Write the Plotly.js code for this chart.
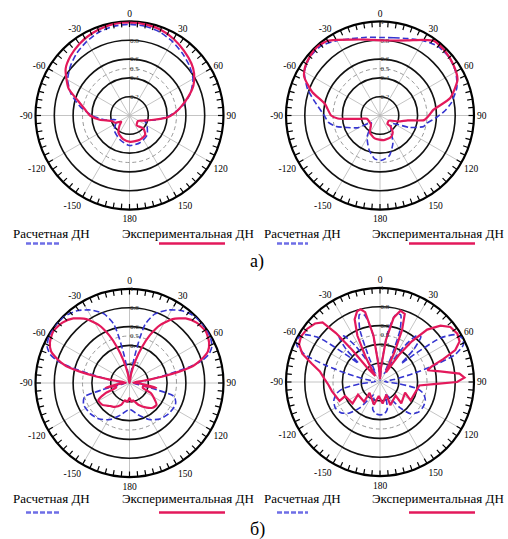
<!DOCTYPE html>
<html><head><meta charset="utf-8">
<script src="https://cdn.plot.ly/plotly-3.0.1.min.js"></script>
<style>html,body{margin:0;padding:0;background:#fff}#chart{width:508px;height:539px}</style>
</head><body><div id="chart"></div>
<script>
// ---- tick labels ----
const angleTicks = [0,30,60,90,120,150,180,210,240,270,300,330];
const angleLabels = ['0','30','60','90','120','150','180','-150','-120','-90','-60','-30'];
const radialTicks = [0.2,0.4,0.6,0.8,1];
const radialLabels = ['0.2','0.4','0.6','0.8','1'];
const dashedRingTicks = [0.5];
const dashedRingLabels = ['0.5'];
const legendCalc = 'Расчетная ДН';
const legendExp = 'Экспериментальная ДН';
const panelCaptions = ['а)','б)'];

// ---- panel 1 (top-left) ----
const theta1Calc = [0,10,20,30,40,50,60,70,80,90,100,108,114,120,138,159,180,202,226,243,252,260,270,280,290,300,310,320,330,340,350,360];
const r1Calc     = [0.97,0.965,0.945,0.91,0.87,0.83,0.78,0.69,0.57,0.43,0.28,0.17,0.19,0.215,0.28,0.31,0.32,0.276,0.226,0.16,0.15,0.27,0.40,0.53,0.66,0.76,0.82,0.87,0.91,0.945,0.965,0.97];
const theta1Exp  = [0,10,20,30,40,50,57,65,72,80,87,93,100,110,122,144,133,141,157,178,195,212,225,233,243,253,262,270,278,286,294,306,315,325,335,345,352,360];
const r1Exp      = [0.99,0.985,0.97,0.94,0.9,0.86,0.82,0.75,0.66,0.56,0.48,0.4,0.26,0.16,0.107,0.13,0.2,0.265,0.28,0.28,0.26,0.22,0.15,0.11,0.17,0.2,0.32,0.42,0.48,0.57,0.71,0.84,0.89,0.93,0.96,0.98,0.99,0.99];

// ---- panel 2 (top-right) ----
const theta2Calc = [0,10,20,30,40,50,60,70,80,86,92,100,104,112,125,144,155,167,178,187,198,211,230,241,250,256,262,271,282,290,300,310,320,330,340,350,360];
const r2Calc     = [0.83,0.84,0.87,0.92,0.96,0.96,0.93,0.87,0.77,0.69,0.6,0.5,0.48,0.34,0.15,0.2,0.325,0.44,0.477,0.464,0.38,0.266,0.12,0.267,0.374,0.48,0.55,0.6,0.71,0.82,0.93,0.97,0.97,0.92,0.87,0.845,0.83];
const theta2Exp  = [0,10,20,30,36,45,55,65,76,84,90,96,100,108,120,139,136,143,153,171,193,211,225,256,260,263,266,270,282,289,297,303,310,318,325,330,340,350,360];
const r2Exp      = [0.8,0.81,0.85,0.93,0.98,0.975,0.95,0.91,0.77,0.57,0.52,0.47,0.3,0.205,0.11,0.12,0.157,0.225,0.256,0.265,0.25,0.21,0.137,0.144,0.203,0.3,0.45,0.52,0.6,0.76,0.905,0.95,0.975,0.99,0.97,0.93,0.86,0.82,0.8];

// ---- panel 3 (bottom-left) ----
const theta3Calc = [0,8,11,13,15,20,28,36,44,52,60,66,70,73,75,77,80,85,92,100,104,107,115,128,140,152,165,180,195,208,220,232,245,253,256,260,268,275,280,283,285,287,290,294,300,308,316,324,332,340,345,347,349,352,360];
const r3Calc     = [0.0,0.1,0.3,0.5,0.65,0.78,0.88,0.95,0.99,1.0,0.99,0.96,0.9,0.8,0.65,0.45,0.25,0.1,0.04,0.1,0.3,0.5,0.54,0.53,0.5,0.44,0.35,0.28,0.35,0.44,0.5,0.53,0.54,0.5,0.3,0.1,0.04,0.1,0.25,0.45,0.65,0.8,0.9,0.96,0.99,1.0,0.99,0.95,0.88,0.78,0.65,0.5,0.3,0.1,0.0];
const theta3Exp  = [0,10,15,19,23,28,34,41,48,56,63,68,72,75,77,79,81,85,95,100,104,110,115,121,129,137,145,158,168,174,180,186,195,201,212,220,231,241,247,251,256,259,263,275,279,281,283,285,288,292,297,304,312,319,326,332,337,341,345,350,360];
const r3Exp      = [0.0,0.1,0.25,0.4,0.55,0.7,0.82,0.91,0.96,0.98,0.95,0.9,0.8,0.7,0.55,0.35,0.15,0.04,0.15,0.29,0.15,0.15,0.25,0.3,0.37,0.36,0.32,0.25,0.19,0.2,0.16,0.2,0.19,0.25,0.3,0.32,0.37,0.38,0.28,0.15,0.15,0.26,0.15,0.04,0.15,0.35,0.55,0.7,0.8,0.9,0.95,0.98,0.96,0.91,0.82,0.7,0.55,0.4,0.25,0.1,0.0];

// ---- panel 4 (bottom-right) ----
const theta4Calc = [0,5,9,13,17,21,24,27,30,34,38,42,46,49,51,54,58,62,66,70,73,76,80,85,95,100,105,112,120,128,136,142,148,155,165,172,180,188,195,205,212,218,225,232,240,248,255,260,265,275,280,284,287,290,294,298,302,306,309,311,314,318,322,326,330,333,336,339,343,347,351,355,360];
const r4Calc     = [0.02,0.2,0.55,0.73,0.75,0.6,0.3,0.1,0.2,0.45,0.62,0.65,0.5,0.3,0.45,0.8,0.95,0.99,0.97,0.85,0.6,0.35,0.15,0.05,0.2,0.4,0.48,0.52,0.53,0.52,0.47,0.35,0.2,0.15,0.3,0.34,0.35,0.34,0.3,0.15,0.2,0.35,0.47,0.53,0.55,0.53,0.48,0.4,0.2,0.05,0.15,0.35,0.6,0.85,0.97,0.99,0.95,0.8,0.45,0.3,0.5,0.65,0.62,0.45,0.2,0.1,0.3,0.6,0.75,0.73,0.55,0.2,0.02];
const theta4Exp  = [0,4,8,12,16,20,23,26,29,32,35,38,42,47,52,58,63,67,70,73,76,80,84,87,90,92,95,121,113,135,131,156,153,173,185,195,224,219,240,232,248,245,259,267,273,280,285,290,295,300,306,312,316,318,319,318,322,326,330,334,338,342,345,348,352,356,360];
const r4Exp      = [0.03,0.15,0.45,0.7,0.79,0.77,0.6,0.35,0.15,0.12,0.35,0.55,0.75,0.88,0.95,0.97,0.95,0.87,0.72,0.58,0.52,0.65,0.85,0.9,0.82,0.6,0.42,0.38,0.29,0.32,0.22,0.27,0.15,0.23,0.15,0.25,0.16,0.27,0.27,0.37,0.4,0.475,0.52,0.55,0.59,0.65,0.75,0.88,0.95,0.97,0.96,0.93,0.88,0.7,0.45,0.2,0.08,0.15,0.3,0.55,0.72,0.79,0.8,0.76,0.5,0.15,0.03];

const calcColor = '#3535d0';
const expColor = '#e3195b';
const serif = 'Liberation Serif, Times New Roman, serif';

const panels = [
  {tc: theta1Calc, rc: r1Calc, te: theta1Exp, re: r1Exp, cx: 129.5, cy: 115.5},
  {tc: theta2Calc, rc: r2Calc, te: theta2Exp, re: r2Exp, cx: 380, cy: 115.5},
  {tc: theta3Calc, rc: r3Calc, te: theta3Exp, re: r3Exp, cx: 129.5, cy: 383},
  {tc: theta4Calc, rc: r4Calc, te: theta4Exp, re: r4Exp, cx: 380, cy: 382}
];

const W = 508, H = 539, R = 94;
const minorTicks = [];
for (let a = 0; a < 360; a += 5) minorTicks.push(a);

const data = [];
const layout = {
  width: W, height: H, margin: {l:0, r:0, t:0, b:0},
  paper_bgcolor: '#fff', showlegend: false,
  font: {family: serif, color: '#000'},
  annotations: [], shapes: []
};

panels.forEach((p, i) => {
  const main = 'polar' + (i === 0 ? '' : (i*2+1));
  const over = 'polar' + (i*2+2);
  const dom = {
    x: [(p.cx - R)/W, (p.cx + R)/W],
    y: [1 - (p.cy + R)/H, 1 - (p.cy - R)/H]
  };
  layout[main] = {
    domain: dom, bgcolor: '#fff',
    radialaxis: {range: [0,1], tickvals: radialTicks, ticktext: radialLabels, angle: 90, tickangle: 90,
      showline: false, ticks: '', gridcolor: '#111', gridwidth: 1.6,
      tickfont: {size: 7, color: '#333', family: serif}},
    angularaxis: {rotation: 90, direction: 'clockwise', tickvals: angleTicks, ticktext: angleLabels,
      ticks: '', showline: true, linecolor: '#000', linewidth: 2.2,
      gridcolor: '#b5b5b5', gridwidth: 0.8, tickfont: {size: 9.5, color: '#000', family: serif}}
  };
  layout[over] = {
    domain: dom, bgcolor: 'rgba(0,0,0,0)',
    radialaxis: {range: [0,1], tickvals: dashedRingTicks, ticktext: dashedRingLabels, angle: 90, tickangle: 90,
      showline: false, ticks: '', gridcolor: '#999', gridwidth: 1, griddash: '4px,3px',
      tickfont: {size: 7, color: '#333', family: serif}},
    angularaxis: {rotation: 90, direction: 'clockwise', tickvals: minorTicks, ticks: 'inside',
      ticklen: 5, tickwidth: 1.2, tickcolor: '#000', showgrid: false, showline: false,
      showticklabels: false}
  };
  // empty trace so the grid subplot is created
  data.push({type: 'scatterpolar', subplot: main, theta: [], r: [], mode: 'lines', hoverinfo: 'skip'});
  data.push({type: 'scatterpolar', subplot: over, theta: p.tc, r: p.rc, mode: 'lines',
    line: {color: calcColor, width: 1.6, dash: '6px,3px', shape: 'spline', smoothing: 0.6},
    name: legendCalc, hoverinfo: 'skip'});
  data.push({type: 'scatterpolar', subplot: over, theta: p.te, r: p.re, mode: 'lines',
    line: {color: expColor, width: 2.2, shape: i === 3 ? 'linear' : 'spline', smoothing: 0.6},
    name: legendExp, hoverinfo: 'skip'});
});

// legends under each row
const rows = [{text: 233, line: 243.5, cap: 261, capText: panelCaptions[0]},
              {text: 498, line: 512.5, cap: 529, capText: panelCaptions[1]}];
rows.forEach(rw => {
  [[51.5, 26, 59], [302, 277, 308]].forEach(c => {
    layout.annotations.push({xref:'paper', yref:'paper', x: c[0]/W, y: 1 - rw.text/H, text: legendCalc,
      showarrow:false, xanchor:'center', yanchor:'middle', font:{size:13, family: serif, color:'#000'}});
    layout.shapes.push({type:'line', xref:'paper', yref:'paper', x0:c[1]/W, x1:c[2]/W, y0:1-rw.line/H, y1:1-rw.line/H,
      line:{color:'#6e6ee6', width:2.5, dash:'5px,2px'}});
  });
  [[188, 159, 225], [437.5, 409, 475]].forEach(c => {
    layout.annotations.push({xref:'paper', yref:'paper', x: c[0]/W, y: 1 - rw.text/H, text: legendExp,
      showarrow:false, xanchor:'center', yanchor:'middle', font:{size:13, family: serif, color:'#000'}});
    layout.shapes.push({type:'line', xref:'paper', yref:'paper', x0:c[1]/W, x1:c[2]/W, y0:1-rw.line/H, y1:1-rw.line/H,
      line:{color:expColor, width:2.5}});
  });
  layout.annotations.push({xref:'paper', yref:'paper', x: 257/W, y: 1 - rw.cap/H, text: rw.capText,
    showarrow:false, xanchor:'center', yanchor:'middle', font:{size:18, family: serif, color:'#000'}});
});

Plotly.newPlot('chart', data, layout, {staticPlot: true, displayModeBar: false});
</script>
</body></html>
